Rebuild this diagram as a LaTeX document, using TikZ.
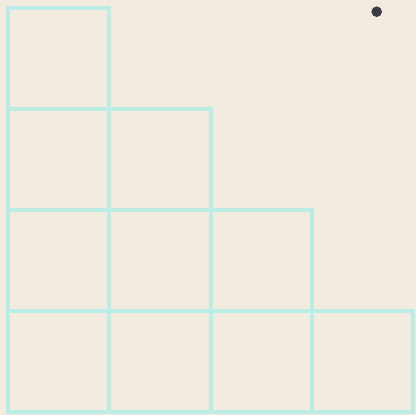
\documentclass[tikz,border=0pt]{standalone}
\definecolor{bg}{HTML}{F2ECE0}
\definecolor{cell}{HTML}{BCEDE5}
\definecolor{dot}{HTML}{3A3B45}
\tikzset{cellbox/.style={draw=cell,line width=4pt}}
\begin{document}
\begin{tikzpicture}[x=1pt,y=-1pt]
\fill[bg] (0,0) rectangle (416,415);
\useasboundingbox (0,0) rectangle (416,415);
\foreach \r in {0,...,3}{
  \foreach \c in {0,...,\r}{
    \draw[cellbox] ({8+101.25*\c},{8+101*\r}) rectangle ({8+101.25*(\c+1)},{8+101*(\r+1)});
  }
}
\fill[dot] (376.7,11.7) circle (5.3);
\end{tikzpicture}
\end{document}
